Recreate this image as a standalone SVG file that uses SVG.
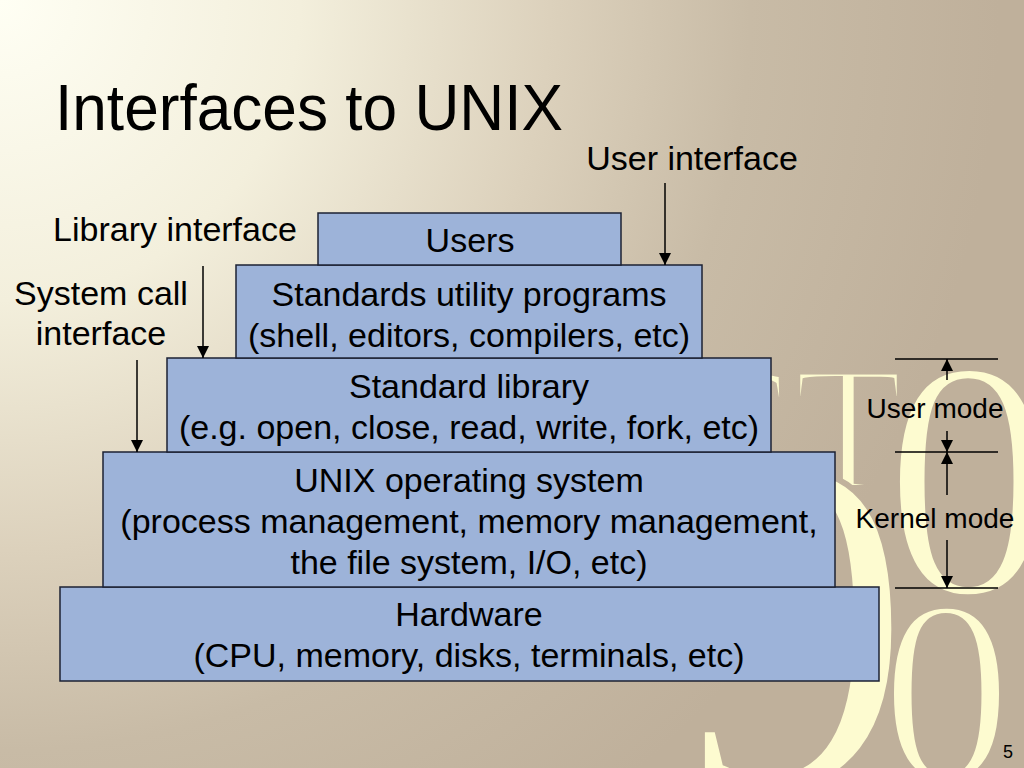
<svg xmlns="http://www.w3.org/2000/svg" width="1024" height="768" viewBox="0 0 1024 768">
  <defs>
    <radialGradient id="bg" gradientUnits="userSpaceOnUse" cx="0" cy="0" r="1000">
      <stop offset="0" stop-color="#fffff4"/>
      <stop offset="0.3" stop-color="#f3efdc"/>
      <stop offset="0.55" stop-color="#dcd1bc"/>
      <stop offset="0.75" stop-color="#c8bba6"/>
      <stop offset="1" stop-color="#bfb09b"/>
    </radialGradient>
    <marker id="ah" markerUnits="userSpaceOnUse" markerWidth="12" markerHeight="12" refX="12" refY="6" orient="auto">
      <path d="M0,0 L12,6 L0,12 z" fill="#000"/>
    </marker>
  </defs>
  <style>
    .box { fill: #9db3d9; stroke: #1c2233; stroke-width: 1.5; }
    .t { font-family: "Liberation Sans", Arial, sans-serif; fill: #000; }
    .body { font-size: 34px; text-anchor: middle; }
    .lbl { font-size: 34px; }
    .mode { font-size: 28px; text-anchor: middle; }
    .deco { font-family: "Liberation Serif", "Times New Roman", serif; fill: #fdfbd0; stroke: url(#bg); stroke-width: 6; }
    .conn line { stroke: #000; stroke-width: 1.5; }
  </style>

  <rect x="0" y="0" width="1024" height="768" fill="url(#bg)"/>

  <g id="decoration">
    <text class="deco" x="675" y="488" font-size="178">C</text>
    <text class="deco" x="794" y="488" font-size="178">T</text>
    <text class="deco" x="884" y="594" font-size="340">0</text>
    <text class="deco" x="674" y="787" font-size="480">9</text>
    <text class="deco" x="881" y="780" font-size="262">0</text>
  </g>

  <text class="t" x="55" y="130" font-size="65" textLength="508" lengthAdjust="spacingAndGlyphs">Interfaces to UNIX</text>

  <g id="hardware">
    <rect class="box" x="60" y="587" width="819" height="94"/>
    <text class="t body" x="469" y="626">Hardware</text>
    <text class="t body" x="469" y="667">(CPU, memory, disks, terminals, etc)</text>
  </g>
  <g id="unix-os">
    <rect class="box" x="103" y="452" width="732" height="135"/>
    <text class="t body" x="469" y="492">UNIX operating system</text>
    <text class="t body" x="469" y="533">(process management, memory management,</text>
    <text class="t body" x="469" y="574">the file system, I/O, etc)</text>
  </g>
  <g id="standard-library">
    <rect class="box" x="167" y="358" width="604" height="94"/>
    <text class="t body" x="469" y="398">Standard library</text>
    <text class="t body" x="469" y="439">(e.g. open, close, read, write, fork, etc)</text>
  </g>
  <g id="utility-programs">
    <rect class="box" x="236" y="265" width="466" height="93"/>
    <text class="t body" x="469" y="306">Standards utility programs</text>
    <text class="t body" x="469" y="347">(shell, editors, compilers, etc)</text>
  </g>
  <g id="users">
    <rect class="box" x="318" y="213" width="303" height="52"/>
    <text class="t body" x="470" y="252">Users</text>
  </g>

  <g id="labels">
    <text class="t lbl" x="692" y="170" text-anchor="middle">User interface</text>
    <text class="t lbl" x="175" y="241" text-anchor="middle">Library interface</text>
    <text class="t lbl" x="101" y="305" text-anchor="middle">System call</text>
    <text class="t lbl" x="101" y="345" text-anchor="middle">interface</text>
    <text class="t mode" x="935" y="418">User mode</text>
    <text class="t mode" x="935" y="528">Kernel mode</text>
    <text class="t" x="1003" y="758" font-size="18">5</text>
  </g>

  <g id="connectors" class="conn">
    <line x1="665" y1="183" x2="665" y2="265" marker-end="url(#ah)"/>
    <line x1="203" y1="266" x2="203" y2="358" marker-end="url(#ah)"/>
    <line x1="137" y1="360" x2="137" y2="452" marker-end="url(#ah)"/>
    <line x1="895" y1="359" x2="998" y2="359"/>
    <line x1="895" y1="452" x2="998" y2="452"/>
    <line x1="895" y1="588" x2="998" y2="588"/>
    <line x1="947" y1="380" x2="947" y2="359" marker-end="url(#ah)"/>
    <line x1="947" y1="431" x2="947" y2="452" marker-end="url(#ah)"/>
    <line x1="947" y1="495" x2="947" y2="452" marker-end="url(#ah)"/>
    <line x1="947" y1="540" x2="947" y2="588" marker-end="url(#ah)"/>
  </g>
</svg>
